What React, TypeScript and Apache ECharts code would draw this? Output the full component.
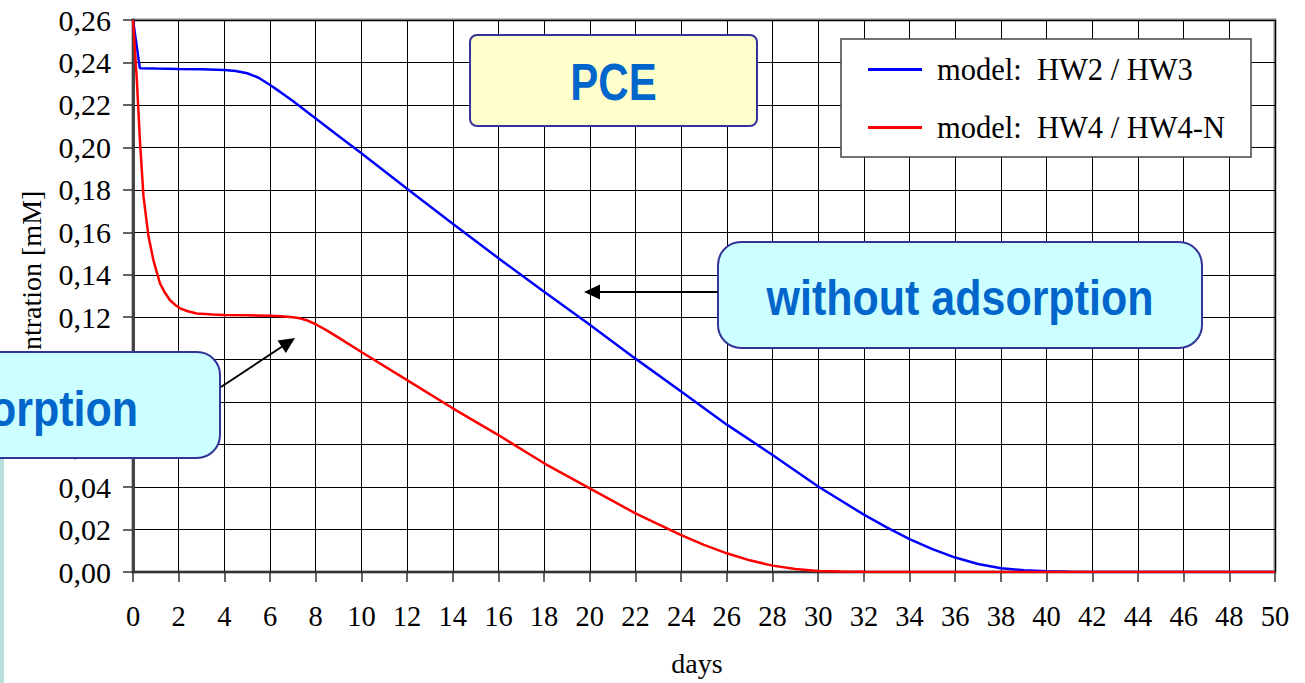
import React, { useEffect, useRef } from "react";
import * as echarts from "echarts";

const xTicks = { min: 0, max: 50, interval: 2 };
const yTicks = { min: 0, max: 0.26, interval: 0.02 };

const seriesNames = ["model:  HW2 / HW3", "model:  HW4 / HW4-N"];
const yAxisTitle = "concentration [mM]";
const xAxisTitle = "days";

const blueDays = [0, 0.3, 1, 2, 3, 4, 4.5, 5, 5.5, 6, 6.3, 6.6, 7, 8, 9, 10, 12, 14, 16, 18, 20, 22, 24, 26, 28, 30, 32, 33, 34, 35, 36, 37, 38, 39, 40, 41, 42, 44, 46, 48, 50];
const blueConc = [0.26, 0.2373, 0.2371, 0.2369, 0.2368, 0.2365, 0.236, 0.2349, 0.2328, 0.2294, 0.2272, 0.2249, 0.2218, 0.2136, 0.2054, 0.1972, 0.1805, 0.164, 0.1478, 0.132, 0.1165, 0.1005, 0.085, 0.0694, 0.0551, 0.0403, 0.027, 0.021, 0.0155, 0.0108, 0.0068, 0.0038, 0.0018, 0.0008, 0.0003, 0.0001, 0.00005, 0, 0, 0, 0];

const redDays = [0, 0.16, 0.31, 0.46, 0.68, 0.89, 1.18, 1.4, 1.62, 1.85, 2.06, 2.4, 2.79, 3.5, 4, 5, 6, 6.5, 7, 7.3, 7.6, 8, 8.5, 9, 10, 12, 14, 16, 18, 20, 22, 24, 25, 26, 27, 28, 29, 30, 31, 32, 34, 50];
const redConc = [0.26, 0.2333, 0.2019, 0.1768, 0.158, 0.147, 0.136, 0.1315, 0.128, 0.1258, 0.1242, 0.1228, 0.1218, 0.1213, 0.1211, 0.1209, 0.1207, 0.1205, 0.12, 0.1195, 0.1186, 0.1167, 0.1137, 0.1104, 0.1036, 0.0904, 0.0771, 0.0645, 0.0512, 0.0394, 0.0276, 0.0174, 0.0128, 0.0088, 0.0055, 0.003, 0.0014, 0.0005, 0.0002, 0.0001, 0, 0];

const SERIF = '"Liberation Serif", "Times New Roman", serif';
const SANS = '"Liberation Sans", Arial, sans-serif';

function arrow(tail: number[], tip: number[], len = 16, half = 7.5) {
  const dx = tip[0] - tail[0];
  const dy = tip[1] - tail[1];
  const L = Math.sqrt(dx * dx + dy * dy);
  const ux = dx / L, uy = dy / L;
  const bx = tip[0] - ux * len, by = tip[1] - uy * len;
  const nx = -uy, ny = ux;
  return [
    { type: "line", z: 102, shape: { x1: tail[0], y1: tail[1], x2: bx + ux * 2, y2: by + uy * 2 }, style: { stroke: "#000", lineWidth: 2 } },
    { type: "polygon", z: 102, shape: { points: [tip, [bx + nx * half, by + ny * half], [bx - nx * half, by - ny * half]] }, style: { fill: "#000" } },
  ];
}

export default function App() {
  const ref = useRef<HTMLDivElement>(null);
  useEffect(() => {
    document.body.style.margin = "0";
    const chart = echarts.init(ref.current!, null, { renderer: "svg" });
    const option = {
      animation: false,
      backgroundColor: "#fff",
      grid: { left: 133, right: 30, top: 20, bottom: 111, show: true, borderColor: "#808080", borderWidth: 3, backgroundColor: "transparent" },
      legend: {
        left: 841,
        top: 39,
        orient: "vertical",
        icon: "rect",
        itemWidth: 54,
        itemHeight: 3,
        itemGap: 27,
        padding: [15, 26, 14, 27],
        backgroundColor: "#fff",
        borderColor: "#444",
        borderWidth: 1.5,
        borderRadius: 0,
        textStyle: { fontFamily: SERIF, fontSize: 30.5, color: "#000", lineHeight: 30, padding: [0, 0, 0, 10] },
        data: seriesNames,
      },
      xAxis: {
        type: "value",
        min: xTicks.min,
        max: xTicks.max,
        interval: xTicks.interval,
        name: xAxisTitle,
        nameLocation: "middle",
        nameGap: 77,
        nameTextStyle: { fontFamily: SERIF, fontSize: 28, color: "#000", padding: [0, 14, 0, 0] },
        axisLine: { show: true, onZero: false, lineStyle: { color: "#333", width: 2 } },
        axisTick: { show: true, inside: false, length: 10, lineStyle: { color: "#333", width: 1.5 } },
        axisLabel: { margin: 30, fontFamily: SERIF, fontSize: 28.5, color: "#000" },
        splitLine: { show: true, lineStyle: { color: "#000", width: 1 } },
      },
      yAxis: {
        type: "value",
        min: yTicks.min,
        max: yTicks.max,
        interval: yTicks.interval,
        axisLine: { show: true, onZero: false, lineStyle: { color: "#444", width: 3 } },
        axisTick: { show: true, inside: false, length: 10, lineStyle: { color: "#333", width: 1.5 } },
        axisLabel: { margin: 22, fontFamily: SERIF, fontSize: 30, color: "#000", formatter: (v: number) => v.toFixed(2).replace(".", ",") },
        splitLine: { show: true, lineStyle: { color: "#000", width: 1 } },
      },
      series: [
        {
          name: seriesNames[0],
          type: "line",
          data: blueDays.map((d, i) => [d, blueConc[i]]),
          showSymbol: false,
          symbol: "none",
          smooth: false,
          color: "#0000ff",
          lineStyle: { color: "#0000ff", width: 2.5 },
        },
        {
          name: seriesNames[1],
          type: "line",
          data: redDays.map((d, i) => [d, redConc[i]]),
          showSymbol: false,
          symbol: "none",
          smooth: false,
          color: "#ff0000",
          lineStyle: { color: "#ff0000", width: 2.5 },
        },
      ],
      graphic: [
        { type: "text", z: 50, x: 31, y: 303, rotation: Math.PI / 2, style: { text: yAxisTitle, fill: "#000", fontFamily: SERIF, fontSize: 28, align: "center", verticalAlign: "middle" } },
        { type: "rect", z: 100, shape: { x: 0, y: 458, width: 4, height: 225 }, style: { fill: "#b8dfe0" } },
        { type: "rect", z: 100, shape: { x: 470, y: 35, width: 287, height: 91, r: 7 }, style: { fill: "#ffffcc", stroke: "#333399", lineWidth: 2 } },
        { type: "text", z: 101, x: 613.5, y: 82, scaleY: 1.24, style: { text: "PCE", fill: "#0066cc", fontFamily: SANS, fontWeight: "bold", fontSize: 42, align: "center", verticalAlign: "middle" } },
        { type: "rect", z: 100, shape: { x: 718, y: 242, width: 484, height: 106, r: 23 }, style: { fill: "#ccffff", stroke: "#333399", lineWidth: 2 } },
        { type: "text", z: 101, x: 960, y: 298, scaleY: 1.14, style: { text: "without adsorption", fill: "#0066cc", fontFamily: SANS, fontWeight: "bold", fontSize: 43, align: "center", verticalAlign: "middle" } },
        { type: "rect", z: 100, shape: { x: -240, y: 352, width: 460, height: 106, r: 23 }, style: { fill: "#ccffff", stroke: "#333399", lineWidth: 2 } },
        { type: "text", z: 101, x: 138, y: 409, scaleY: 1.14, style: { text: "with adsorption", fill: "#0066cc", fontFamily: SANS, fontWeight: "bold", fontSize: 43, align: "right", verticalAlign: "middle" } },
        ...arrow([718, 292], [584, 292]),
        ...arrow([221, 387], [295, 338]),
      ],
    };
    chart.setOption(option as any);
    return () => chart.dispose();
  }, []);
  return <div ref={ref} style={{ width: 1305, height: 683 }} />;
}
